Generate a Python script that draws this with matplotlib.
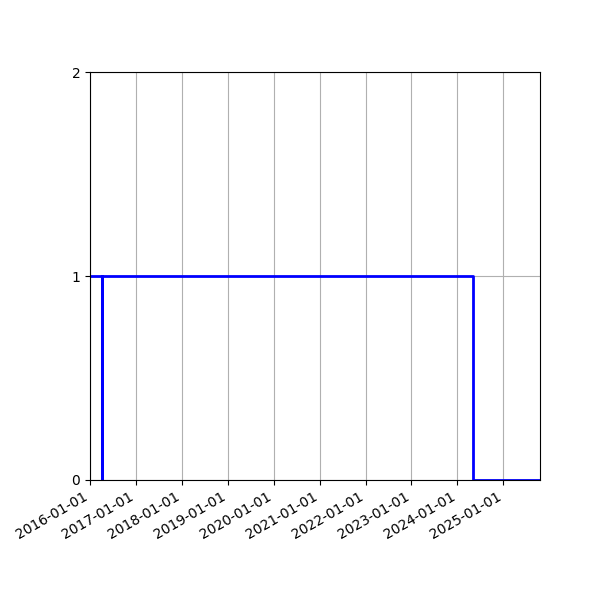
import matplotlib
matplotlib.use("Agg")
import matplotlib.pyplot as plt
import matplotlib.dates as mdates
import numpy as np
from datetime import datetime

dates = ["2016-01-01", "2016-04-05", "2016-04-06", "2024-05-07", "2025-10-20"]
values = [1, 0, 1, 0, 0]
yticks = [0, 1, 2]

x = [datetime.strptime(d, "%Y-%m-%d") for d in dates]

fig = plt.figure(figsize=(6, 6), dpi=100)
ax = fig.add_subplot(111)
ax.plot(x, values, drawstyle="steps-post", color="blue", linewidth=2)
ax.set_xlim(x[0], x[-1])
ax.set_ylim(0, 2)
ax.set_yticks(yticks)
ax.xaxis.set_major_locator(mdates.YearLocator())
ax.xaxis.set_major_formatter(mdates.DateFormatter("%Y-%m-%d"))
ax.grid(True)
fig.autofmt_xdate()
fig.subplots_adjust(left=0.15, right=0.9, bottom=0.2, top=0.88)
fig.savefig("out.png", dpi=100)
